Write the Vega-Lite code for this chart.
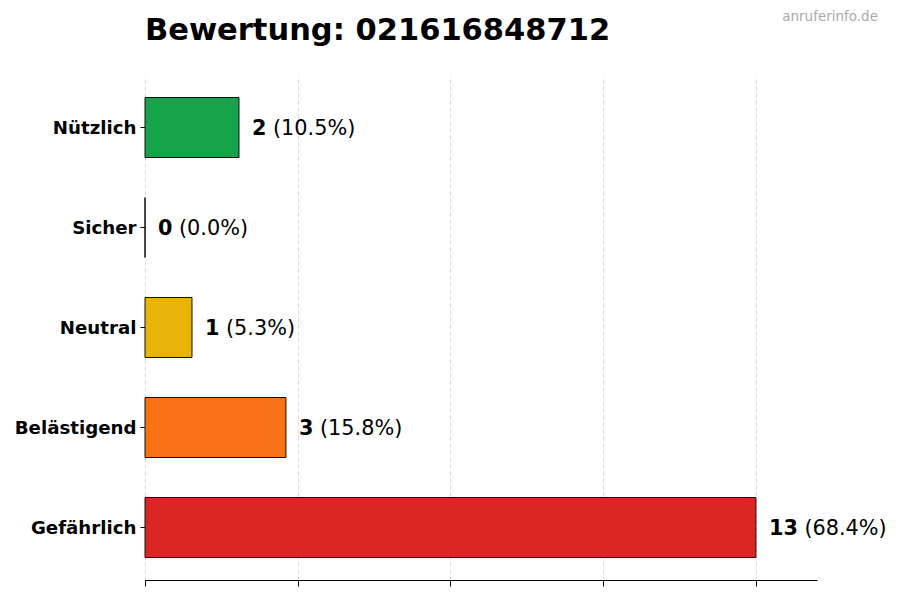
{
  "$schema": "https://vega.github.io/schema/vega-lite/v6.json",
  "width": 672,
  "height": 505,
  "autosize": {"type": "none"},
  "padding": {"left": 145, "top": 75, "right": 83, "bottom": 20},
  "background": "white",
  "config": {
    "font": "DejaVu Sans",
    "view": {"stroke": null}
  },
  "title": {
    "text": "Bewertung: 021616848712",
    "anchor": "start",
    "frame": "group",
    "baseline": "bottom",
    "offset": 27,
    "dy": 93,
    "fontSize": 30.5,
    "fontWeight": "bold",
    "color": "black",
    "font": "DejaVu Sans"
  },
  "data": {
    "values": [
      {"kategorie": "Nützlich", "anzahl": 2, "anteil": "(10.5%)"},
      {"kategorie": "Sicher", "anzahl": 0, "anteil": "(0.0%)"},
      {"kategorie": "Neutral", "anzahl": 1, "anteil": "(5.3%)"},
      {"kategorie": "Belästigend", "anzahl": 3, "anteil": "(15.8%)"},
      {"kategorie": "Gefährlich", "anzahl": 13, "anteil": "(68.4%)"}
    ]
  },
  "encoding": {
    "y": {
      "field": "kategorie",
      "type": "nominal",
      "sort": ["Nützlich", "Sicher", "Neutral", "Belästigend", "Gefährlich"],
      "scale": {"paddingInner": 0.4, "paddingOuter": 0.225},
      "axis": {
        "title": null,
        "domain": false,
        "tickSize": 5,
        "tickColor": "black",
        "labelPadding": 4,
        "labelFontSize": 18.2,
        "labelFontWeight": "bold",
        "labelColor": "black",
        "labelFont": "DejaVu Sans",
        "labelOffset": 1.5
      }
    },
    "x": {
      "field": "anzahl",
      "type": "quantitative",
      "scale": {"domain": [0, 14.3], "nice": false},
      "axis": {
        "title": null,
        "values": [0, 3.25, 6.5, 9.75, 13],
        "labels": false,
        "tickSize": 6,
        "tickColor": "black",
        "domainColor": "black",
        "grid": true,
        "gridColor": "#d0d0d0",
        "gridDash": [4, 3],
        "gridWidth": 0.8
      }
    }
  },
  "layer": [
    {
      "mark": {"type": "bar", "stroke": "#111", "strokeWidth": 1},
      "encoding": {
        "color": {
          "field": "kategorie",
          "type": "nominal",
          "legend": null,
          "scale": {
            "domain": ["Nützlich", "Sicher", "Neutral", "Belästigend", "Gefährlich"],
            "range": ["#16a34a", "#2563eb", "#eab308", "#f97316", "#dc2626"]
          }
        }
      }
    },
    {
      "mark": {"type": "text", "align": "left", "baseline": "middle", "dx": 13, "dy": 1, "fontSize": 20.8, "fontWeight": "bold", "color": "black"},
      "encoding": {"text": {"field": "anzahl", "type": "quantitative"}}
    },
    {
      "transform": [{"filter": "datum.anzahl < 10"}],
      "mark": {"type": "text", "align": "left", "baseline": "middle", "dx": 34, "dy": 1, "fontSize": 20.8, "color": "black"},
      "encoding": {"text": {"field": "anteil", "type": "nominal"}}
    },
    {
      "transform": [{"filter": "datum.anzahl >= 10"}],
      "mark": {"type": "text", "align": "left", "baseline": "middle", "dx": 48.5, "dy": 1, "fontSize": 20.8, "color": "black"},
      "encoding": {"text": {"field": "anteil", "type": "nominal"}}
    },
    {
      "data": {"values": [{"quelle": "anruferinfo.de"}]},
      "mark": {"type": "text", "align": "right", "baseline": "middle", "x": {"expr": "width + 61"}, "y": -58, "fontSize": 13.5, "color": "#aaaaaa"},
      "encoding": {"text": {"field": "quelle", "type": "nominal"}, "x": null, "y": null}
    }
  ]
}
